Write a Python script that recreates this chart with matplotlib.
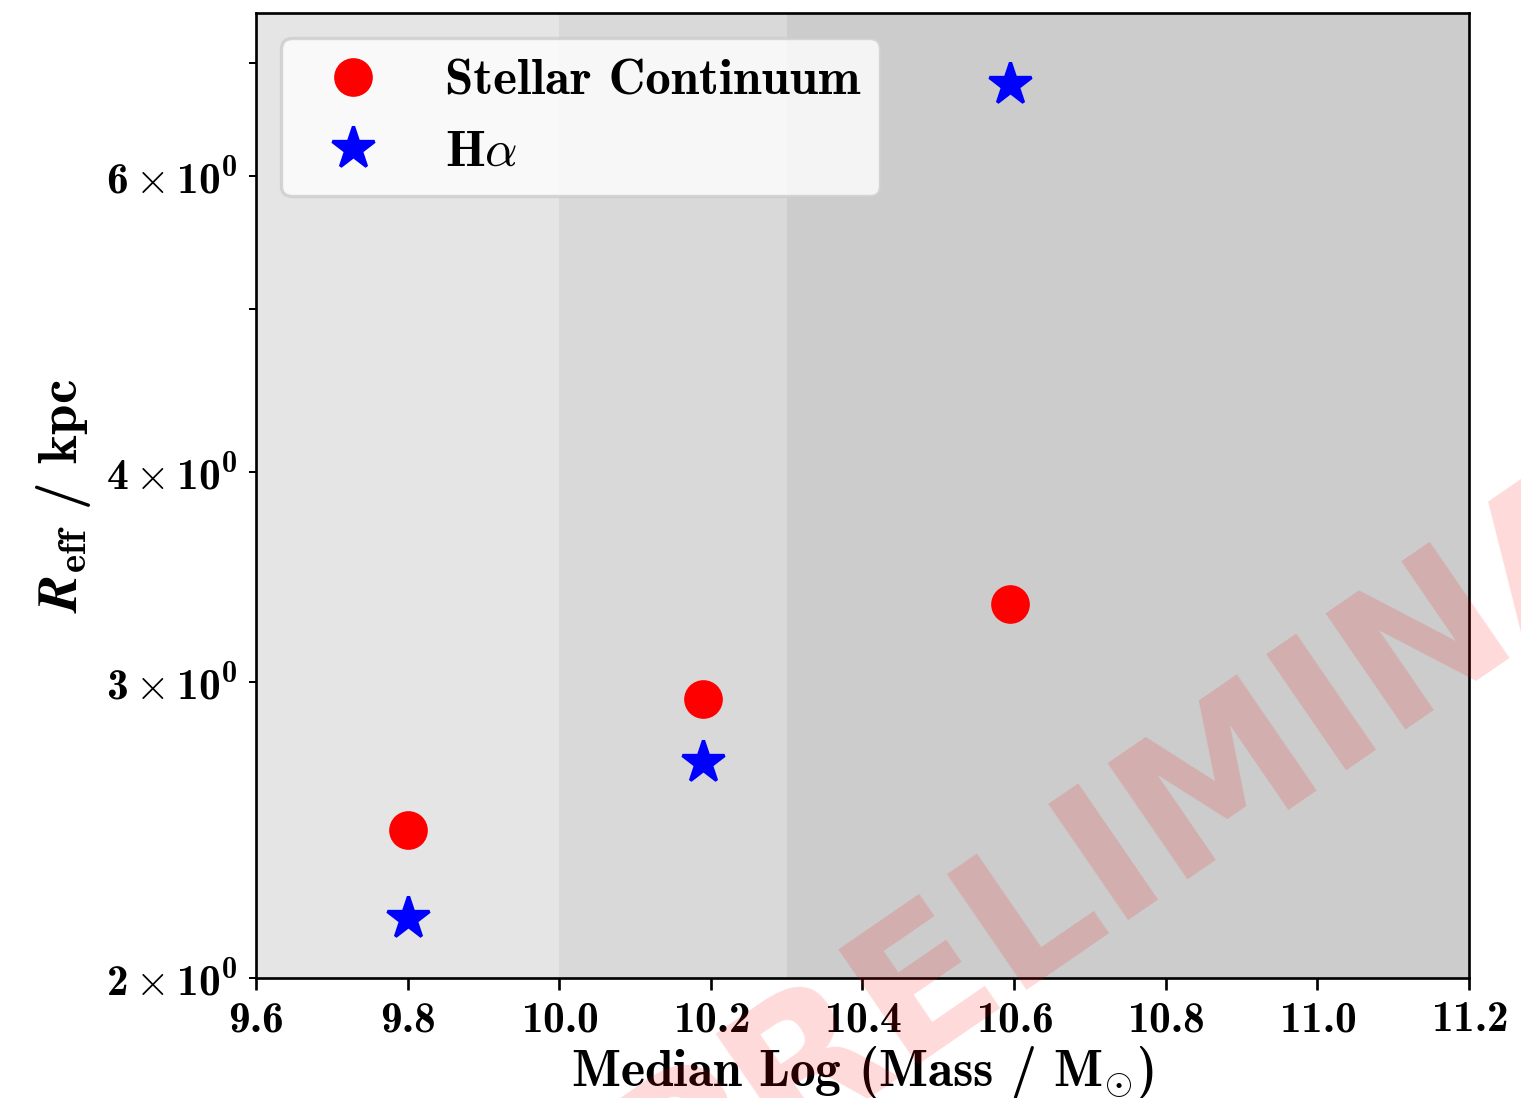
import numpy as np
import matplotlib
matplotlib.use('Agg')
import matplotlib.pyplot as plt
from matplotlib.ticker import LogFormatterSciNotation

plt.rcParams.update({
    "font.family": "cmb10",
    "mathtext.fontset": "cm",
    "axes.formatter.use_mathtext": True,
    "axes.unicode_minus": False,
})

# median log stellar mass of each bin
mass = [9.80, 10.19, 10.595]
# effective radius in kpc
r_cont = [2.45, 2.93, 3.34]
r_halpha = [2.17, 2.69, 6.80]

# mass bin edges (shaded background)
bin_edges = [9.6, 10.0, 10.3, 11.2]
bin_alpha = [0.10, 0.15, 0.20]


class BoldLogFormatter(LogFormatterSciNotation):
    # cmb10 has no proper times sign, take it from the math font instead
    def __call__(self, x, pos=None):
        s = super().__call__(x, pos)
        return s.replace(r'\times', r'}\times\mathdefault{')


def plot_reff():
    fig = plt.figure(figsize=(1521 / 240, 1098 / 240), dpi=240)
    ax = fig.add_axes([0.1683, 0.1093, 0.7975, 0.8789])

    for lo, hi, a in zip(bin_edges[:-1], bin_edges[1:], bin_alpha):
        ax.axvspan(lo, hi, color='k', alpha=a, lw=0)

    ax.plot(mass, r_cont, 'o', color='red', ms=10.6, ls='none',
            label='Stellar Continuum')
    ax.plot(mass, r_halpha, '*', color='blue', ms=13.2, ls='none',
            label=r'H$\alpha$')

    ax.set_yscale('log')
    ax.yaxis.set_major_formatter(BoldLogFormatter(labelOnlyBase=False))
    ax.yaxis.set_minor_formatter(BoldLogFormatter(labelOnlyBase=False))
    ax.set_xlim(9.6, 11.2)
    ax.set_ylim(2.0, 7.5)

    ax.tick_params(axis='both', which='both', labelsize=13)
    ax.set_xlabel(r'Median Log (Mass / M$_{\odot}$)', fontsize=15.5,
                  labelpad=1)
    ax.set_ylabel(r'$\mathbfit{R}_{\mathbf{eff}}$ / kpc', fontsize=16.5)
    ax.legend(loc='upper left', fontsize=15.3)

    fig.text(0.8337, 0.2605, 'PRELIMINARY', fontsize=58, fontweight='bold',
             family='DejaVu Sans', color='red', alpha=0.15, rotation=34.5,
             ha='center', va='baseline', rotation_mode='anchor', zorder=10)

    fig.savefig('out.png', dpi=240)


plot_reff()
